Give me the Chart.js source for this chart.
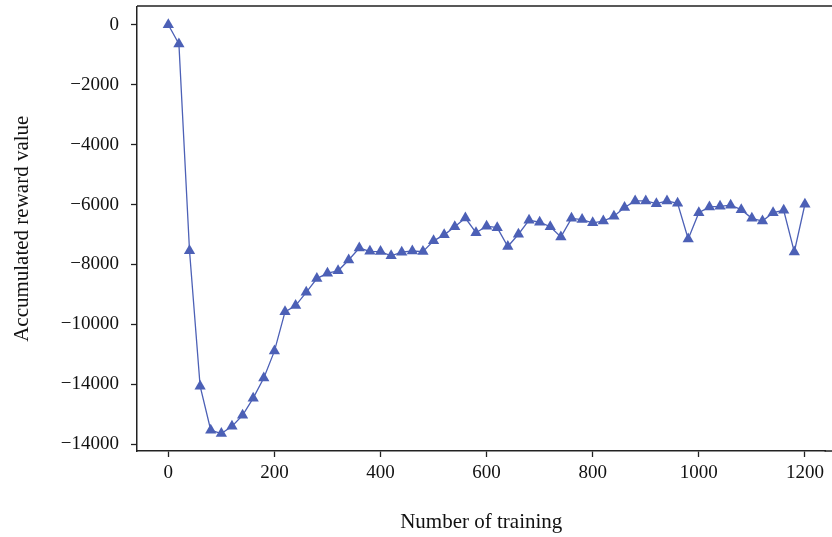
<!DOCTYPE html>
<html>
<head>
<meta charset="utf-8">
<script src="https://cdn.jsdelivr.net/npm/chart.js@4.4.1/dist/chart.umd.min.js"></script>
<style>
  html, body { margin: 0; padding: 0; background: #fff; overflow: hidden; }
</style>
</head>
<body>
<canvas id="rewardChart" width="832" height="537"></canvas>
<script>
// training episodes (x) and accumulated reward (y)
const episodes = [0, 20, 40, 60, 80, 100, 120, 140, 160, 180, 200, 220, 240, 260, 280, 300,
  320, 340, 360, 380, 400, 420, 440, 460, 480, 500, 520, 540, 560, 580, 600, 620, 640, 660,
  680, 700, 720, 740, 760, 780, 800, 820, 840, 860, 880, 900, 920, 940, 960, 980, 1000, 1020,
  1040, 1060, 1080, 1100, 1120, 1140, 1160, 1180, 1200];
const rewards = [0, -640, -7540, -12060, -13530, -13640, -13400, -13030, -12460, -11790, -10890,
  -9580, -9370, -8930, -8470, -8290, -8210, -7850, -7450, -7560, -7570, -7710, -7590, -7550,
  -7570, -7210, -7010, -6740, -6450, -6940, -6720, -6770, -7400, -6990, -6520, -6590, -6740,
  -7080, -6460, -6500, -6610, -6550, -6390, -6100, -5880, -5880, -5970, -5880, -5960, -7150,
  -6270, -6080, -6060, -6020, -6170, -6460, -6550, -6270, -6190, -7580, -5990];

const xTicks = [0, 200, 400, 600, 800, 1000, 1200];
const yTicks = [0, -2000, -4000, -6000, -8000, -10000, -12000, -14000];
const yTickLabels = ["0", "\u22122000", "\u22124000", "\u22126000", "\u22128000", "\u221210000", "\u221214000", "\u221214000"];

const serif = "'Liberation Serif', 'DejaVu Serif', serif";
const lineColor = "#4c60b6";
const axisColor = "#222";

// top frame line, and the two frame lines carried on to the right edge of the canvas
const frame = {
  id: "frame",
  afterDraw(chart) {
    const { ctx, chartArea, width } = chart;
    ctx.save();
    ctx.strokeStyle = axisColor;
    ctx.lineWidth = 1.5;
    ctx.beginPath();
    ctx.moveTo(chartArea.left, chartArea.top - 0.5);
    ctx.lineTo(width, chartArea.top - 0.5);
    ctx.moveTo(chartArea.right - 1, chartArea.bottom);
    ctx.lineTo(width, chartArea.bottom);
    ctx.stroke();
    ctx.restore();
  }
};

new Chart(document.getElementById("rewardChart"), {
  type: "line",
  data: {
    datasets: [{
      data: episodes.map((e, i) => ({ x: e, y: rewards[i] })),
      borderColor: lineColor,
      backgroundColor: lineColor,
      borderWidth: 1.3,
      pointStyle: "triangle",
      pointRadius: 6.5,
      pointBorderWidth: 0,
      tension: 0
    }]
  },
  options: {
    responsive: false,
    animation: false,
    layout: { padding: { top: 3, left: 0, right: 0, bottom: 0 } },
    plugins: { legend: { display: false }, tooltip: { enabled: false } },
    scales: {
      x: {
        type: "linear",
        min: -59,
        max: 1238.8,
        afterBuildTicks: s => { s.ticks = xTicks.map(v => ({ value: v })); },
        afterFit: s => { s.height = 86; s.paddingLeft = 0; s.paddingRight = 0; },
        grid: { drawOnChartArea: false, drawTicks: true, tickLength: 6, color: axisColor, tickWidth: 1.3 },
        border: { display: true, color: axisColor, width: 1.5 },
        ticks: { color: "#111", font: { family: serif, size: 19 }, padding: 5, maxRotation: 0,
          callback: v => String(v) },
        title: { display: true, text: "Number of training", color: "#111",
          font: { family: serif, size: 21 }, padding: { top: 0, bottom: 2 } }
      },
      y: {
        type: "linear",
        min: -14223,
        max: 609,
        afterBuildTicks: s => { s.ticks = yTicks.map(v => ({ value: v })); },
        afterFit: s => { s.width = 137; s.paddingTop = 0; s.paddingBottom = 0; },
        grid: { drawOnChartArea: false, drawTicks: true, tickLength: 6, color: axisColor, tickWidth: 1.3 },
        border: { display: true, color: axisColor, width: 1.5 },
        ticks: {
          color: "#111", font: { family: serif, size: 19 }, padding: 12,
          callback: (v) => { const i = yTicks.indexOf(v); return i >= 0 ? yTickLabels[i] : ""; }
        },
        title: { display: true, text: "Accumulated reward value", color: "#111",
          font: { family: serif, size: 21 }, padding: { top: 10, bottom: 0 } }
      }
    }
  },
  plugins: [frame]
});
</script>
</body>
</html>
